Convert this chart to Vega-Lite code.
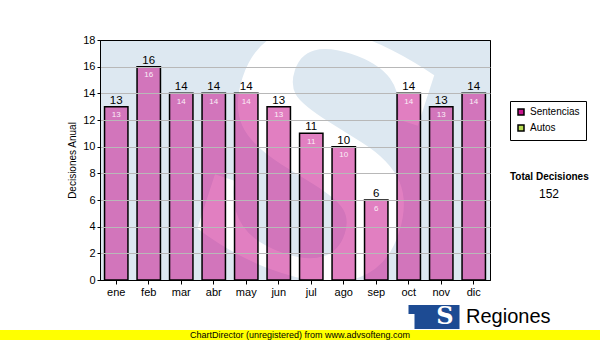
{
  "$schema": "https://vega.github.io/schema/vega-lite/v6.json",
  "autosize": {"type": "pad"},
  "padding": {"left": 0, "top": 34, "right": 0, "bottom": 0},
  "background": "white",
  "config": {
    "view": {"stroke": "black", "strokeWidth": 1},
    "font": "Liberation Sans"
  },
  "datasets": {
    "meses": [
      {"mes": "ene", "n": 13, "tipo": "Sentencias"},
      {"mes": "feb", "n": 16, "tipo": "Sentencias"},
      {"mes": "mar", "n": 14, "tipo": "Sentencias"},
      {"mes": "abr", "n": 14, "tipo": "Sentencias"},
      {"mes": "may", "n": 14, "tipo": "Sentencias"},
      {"mes": "jun", "n": 13, "tipo": "Sentencias"},
      {"mes": "jul", "n": 11, "tipo": "Sentencias"},
      {"mes": "ago", "n": 10, "tipo": "Sentencias"},
      {"mes": "sep", "n": 6, "tipo": "Sentencias"},
      {"mes": "oct", "n": 14, "tipo": "Sentencias"},
      {"mes": "nov", "n": 13, "tipo": "Sentencias"},
      {"mes": "dic", "n": 14, "tipo": "Sentencias"}
    ]
  },
  "width": 390,
  "height": 240,
  "view": {"fill": "#dde8f1", "stroke": "black"},
  "layer": [
    {
      "data": {"values": [{"wm": "S"}]},
      "mark": {"type": "text", "font": "DejaVu Serif", "fontWeight": "bold", "fontSize": 330, "angle": 18, "color": "white", "clip": true, "dx": 22, "dy": 8, "baseline": "middle", "align": "center"},
      "encoding": {"text": {"field": "wm"}}
    },
    {
      "data": {"name": "meses"},
      "encoding": {
        "x": {
          "field": "mes", "type": "nominal", "sort": null,
          "scale": {"paddingInner": 0.28},
          "axis": {
            "title": ".", "titleX": -100, "titleY": 50, "titleAlign": "left", "titleBaseline": "bottom",
            "titleOpacity": 0, "titleFontSize": 10,
            "labelAngle": 0, "labelFont": "Liberation Sans", "labelFontSize": 11, "labelColor": "black",
            "tickColor": "black", "tickSize": 4, "domainColor": "black", "labelPadding": 2, "grid": false, "zindex": 1
          }
        },
        "y": {
          "field": "n", "type": "quantitative",
          "scale": {"domain": [0, 18], "nice": false},
          "axis": {
            "title": "Decisiones Anual", "values": [0, 2, 4, 6, 8, 10, 12, 14, 16, 18], "zindex": 1,
            "gridColor": {"condition": {"test": "datum.value === 0 || datum.value === 18", "value": "black"}, "value": "#b8b8b8"},
            "gridWidth": 1,
            "labelFont": "Liberation Sans", "labelFontSize": 11, "labelColor": "black", "labelPadding": 2,
            "tickColor": "black", "tickSize": 3, "domainColor": "black",
            "titleFont": "Liberation Sans", "titleFontSize": 10, "titleFontWeight": "normal", "titleColor": "black", "titlePadding": 5
          }
        }
      },
      "layer": [
        {
          "mark": {"type": "bar", "fillOpacity": 0.55, "stroke": "black", "strokeWidth": 1.5},
          "encoding": {
            "color": {
              "field": "tipo", "type": "nominal",
              "scale": {"domain": ["Sentencias", "Autos"], "range": ["#c8168e", "#b8dc52"]},
              "legend": {
                "title": null, "orient": "none", "legendX": 410, "legendY": 61, "padding": 6,
                "strokeColor": "black", "fillColor": "white", "symbolType": "square", "symbolSize": 36,
                "labelFont": "Liberation Sans", "labelFontSize": 10, "labelColor": "black", "labelOffset": 4, "rowPadding": 4,
                "encode": {"symbols": {"update": {"stroke": {"value": "black"}, "strokeWidth": {"value": 1}, "fillOpacity": {"value": 0.55}, "opacity": {"value": 1}}}}
              }
            }
          }
        },
        {
          "mark": {"type": "text", "font": "Liberation Sans", "fontSize": 11.5, "baseline": "alphabetic", "dy": -3, "color": "black"},
          "encoding": {"text": {"field": "n", "type": "quantitative"}}
        },
        {
          "mark": {"type": "text", "font": "Liberation Sans", "fontSize": 8, "baseline": "alphabetic", "dy": 10.5, "color": "#fbeef7"},
          "encoding": {"text": {"field": "n", "type": "quantitative"}}
        }
      ]
    },
    {
      "data": {"values": [{"total": "152"}]},
      "mark": {"type": "point", "size": 0, "filled": true, "color": "transparent"},
      "encoding": {
        "size": {
          "field": "total", "type": "ordinal", "scale": {"range": [1, 1]},
          "legend": {
            "title": "Total Decisiones", "orient": "none", "legendX": 410, "legendY": 132, "padding": 0,
            "titleFont": "Liberation Sans", "titleFontSize": 10, "titleFontWeight": "bold", "titleColor": "black", "titlePadding": 6,
            "labelFont": "Liberation Sans", "labelFontSize": 12, "labelColor": "black", "labelAlign": "center", "labelOffset": 27,
            "symbolStrokeWidth": 0, "symbolFillColor": "transparent",
            "encode": {"symbols": {"update": {"fill": {"value": "transparent"}, "stroke": {"value": "transparent"}, "strokeWidth": {"value": 0}, "size": {"value": 0}}}}
          }
        }
      }
    },
    {
      "data": {"values": [{"logo": "S"}]},
      "mark": {"type": "point", "size": 0, "filled": true, "color": "#1d4b93"},
      "encoding": {
        "shape": {
          "field": "logo", "type": "nominal",
          "scale": {"range": ["M-2.125,-1 H2.125 V1 H-1.625 V-0.25 H-2.125 Z"]},
          "legend": {
            "title": "Regiones", "orient": "none", "legendX": 322, "legendY": 265, "padding": 0,
            "titleOrient": "right", "titleFont": "Liberation Sans", "titleFontSize": 20, "titleFontWeight": "normal", "titleColor": "black",
            "titlePadding": 6, "titleAnchor": "middle", "titleBaseline": "middle",
            "symbolSize": 576, "symbolFillColor": "#1d4b93", "symbolStrokeWidth": 0, "symbolOpacity": 1,
            "labelFont": "DejaVu Serif", "labelFontWeight": "bold", "labelFontSize": 24, "labelColor": "white",
            "labelAlign": "center", "labelBaseline": "middle", "labelOffset": -1
          }
        }
      }
    },
    {
      "data": {"values": [{"pie": "ChartDirector (unregistered) from www.advsofteng.com"}]},
      "mark": {"type": "point", "size": 0, "filled": true, "color": "#ffff00"},
      "encoding": {
        "opacity": {
          "field": "pie", "type": "ordinal", "scale": {"range": [1, 1]},
          "legend": {
            "title": null, "orient": "none", "legendX": 195, "legendY": 290, "padding": 0,
            "symbolType": "M-60,-1 H60 V1 H-60 Z", "symbolSize": 100,
            "symbolFillColor": "#ffff00", "symbolStrokeWidth": 0,
            "labelFont": "Liberation Sans", "labelFontSize": 9, "labelColor": "black", "labelAlign": "left", "labelBaseline": "middle",
            "labelOffset": -115, "labelLimit": 400,
            "encode": {"symbols": {"update": {"fill": {"value": "#ffff00"}, "stroke": {"value": "transparent"}, "strokeWidth": {"value": 0}, "fillOpacity": {"value": 1}, "opacity": {"value": 1}}}}
          }
        }
      }
    }
  ]
}
